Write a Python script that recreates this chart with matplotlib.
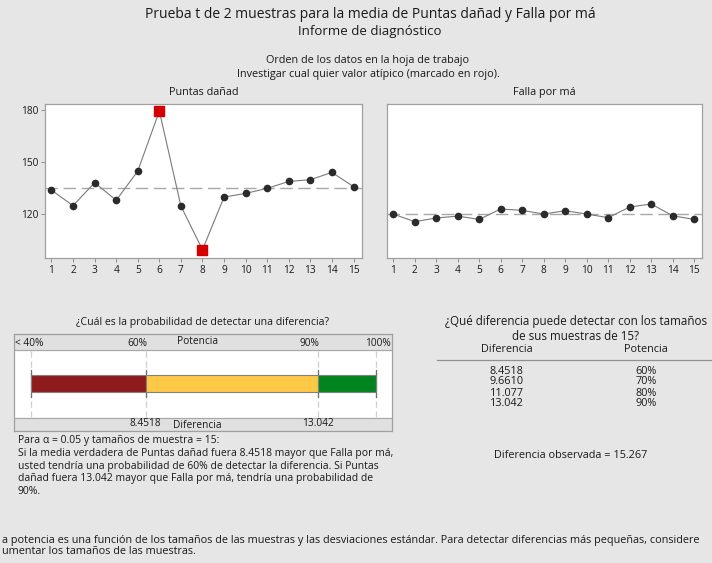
import numpy as np
import matplotlib.pyplot as plt

plt.rcParams['font.family'] = ['Open Sans', 'DejaVu Sans']

# Observaciones en el orden de la hoja de trabajo
orden = np.arange(1, 16)
puntas_danad = [133.8, 124.8, 138.1, 127.9, 144.8, 179.4, 124.6, 99.4,
                129.8, 131.9, 134.8, 138.8, 139.8, 144.0, 135.8]
falla_por_ma = [120.0, 115.6, 117.7, 118.8, 116.9, 122.9, 122.1, 120.0,
                121.9, 120.0, 117.9, 124.0, 125.8, 119.0, 116.9]
atipicos_puntas = [6, 8]
atipicos_falla = []

# Curva de potencia
potencias = [60, 70, 80, 90]
diferencias = [8.4518, 9.6610, 11.077, 13.042]
dif_etiquetas = ["8.4518", "9.6610", "11.077", "13.042"]
dif_observada = 15.267
alfa = 0.05
n_muestra = 15

W, H = 712, 563
BG = '#e6e6e6'
fig = plt.figure(figsize=(W / 100, H / 100), dpi=100, facecolor=BG)


def caja(x0, y0, x1, y1):
    # pixeles (origen arriba a la izquierda) -> fracciones de figura
    return [x0 / W, 1 - y1 / H, (x1 - x0) / W, (y1 - y0) / H]


def texto(x, y, s, **kw):
    kw.setdefault('ha', 'center')
    kw.setdefault('va', 'center')
    kw.setdefault('color', '#1a1a1a')
    fig.text(x / W, 1 - y / H, s, **kw)


texto(370, 15, "Prueba t de 2 muestras para la media de Puntas dañad y Falla por má", fontsize=10)
texto(370, 31, "Informe de diagnóstico", fontsize=9.5)
texto(368, 60, "Orden de los datos en la hoja de trabajo", fontsize=7.8)
texto(368, 74, "Investigar cual quier valor atípico (marcado en rojo).", fontsize=7.8)


def serie(ax, valores, atipicos, titulo, etiquetas_y):
    ax.set_facecolor('white')
    ax.plot(orden, valores, color='#7a7a7a', lw=0.8, zorder=2)
    media = np.mean(valores)
    ax.axhline(media, color='#a8a8a8', lw=1.0, dashes=(9, 4), zorder=1)
    normales = [i for i in orden if i not in atipicos]
    ax.plot(normales, [valores[i - 1] for i in normales], 'o', color='#2b2b2b',
            ms=4.5, zorder=3)
    if atipicos:
        ax.plot(atipicos, [valores[i - 1] for i in atipicos], 's', color='#d40000',
                ms=7, zorder=4)
    ax.set_xlim(0.7, 15.38)
    ax.set_ylim(94.8, 183.3)
    ax.set_xticks(orden)
    ax.tick_params(axis='x', length=3, width=0.6, color='#808080', labelsize=7.3,
                   pad=2, labelcolor='#1a1a1a')
    if etiquetas_y:
        ax.set_yticks([120, 150, 180])
        ax.tick_params(axis='y', length=3, width=0.6, color='#808080', labelsize=7.3,
                       pad=2, labelcolor='#1a1a1a')
    else:
        ax.set_yticks([])
    for s in ax.spines.values():
        s.set_color('#a0a0a0')
        s.set_linewidth(0.9)
    ax.set_title(titulo, fontsize=7.8, color='#1a1a1a', pad=7)


ax1 = fig.add_axes(caja(45, 104.3, 361.7, 257.7))
serie(ax1, puntas_danad, atipicos_puntas, "Puntas dañad", True)
ax2 = fig.add_axes(caja(386.7, 104.3, 702.3, 257.7))
serie(ax2, falla_por_ma, atipicos_falla, "Falla por má", False)

# Barra de potencia
texto(203, 322, "¿Cuál es la probabilidad de detectar una diferencia?", fontsize=7.6)
axp = fig.add_axes(caja(14, 334, 391.7, 431))
axp.set_xlim(37.1, 102.8)
axp.set_ylim(431, 334)
axp.set_facecolor('white')
axp.axhspan(334, 350, color='#e0e0e0', zorder=0)
axp.axhspan(417.7, 431, color='#e0e0e0', zorder=0)
axp.axhline(350, color='#a8a8a8', lw=0.8)
axp.axhline(417.7, color='#a8a8a8', lw=0.8)
limites = [40, potencias[0], potencias[-1], 100]
for xv in limites:
    axp.plot([xv, xv], [351, 417], color='#cfcfcf', lw=0.9, dashes=(5, 3))
    axp.plot([xv, xv], [370, 397], color='#707070', lw=0.9)
colores = ['#8e1b1e', '#fcc846', '#00841f']
for a, b, c in zip(limites[:-1], limites[1:], colores):
    axp.barh(383.6, b - a, left=a, height=17, color=c, edgecolor='#808080',
             linewidth=0.8, zorder=3)
axp.set_xticks([])
axp.set_yticks([])
for s in axp.spines.values():
    s.set_color('#a0a0a0')
    s.set_linewidth(0.9)
kw = dict(fontsize=7.3, color='#1a1a1a', va='center')
axp.text(37.3, 343, "< 40%", ha='left', **kw)
axp.text(potencias[0] + 0.3, 343, f"{potencias[0]}%", ha='right', **kw)
axp.text(potencias[-1] + 0.3, 343, f"{potencias[-1]}%", ha='right', **kw)
axp.text(102.6, 343, "100%", ha='right', **kw)
axp.text(69, 341, "Potencia", ha='center', **kw)
axp.text(potencias[0], 423.5, dif_etiquetas[0], ha='center', **kw)
axp.text(potencias[-1], 423.5, dif_etiquetas[-1], ha='center', **kw)
axp.text(69, 426, "Diferencia", ha='center', **kw)

# Texto explicativo
parrafo = (f"Para α = {alfa} y tamaños de muestra = {n_muestra}:\n"
           f"Si la media verdadera de Puntas dañad fuera {dif_etiquetas[0]} mayor que Falla por má,\n"
           f"usted tendría una probabilidad de {potencias[0]}% de detectar la diferencia. Si Puntas\n"
           f"dañad fuera {dif_etiquetas[-1]} mayor que Falla por má, tendría una probabilidad de\n"
           f"{potencias[-1]}%.")
texto(18, 435, parrafo, ha='left', va='top', fontsize=7.45, linespacing=1.22)

# Tabla de diferencias detectables
texto(576, 321, "¿Qué diferencia puede detectar con los tamaños", fontsize=8.4)
texto(576, 337, "de sus muestras de 15?", fontsize=8.4)
texto(507, 349, "Diferencia", fontsize=7.8)
texto(646, 349, "Potencia", fontsize=7.8)
fig.add_artist(plt.Line2D([436.7 / W, 1], [1 - 360 / H, 1 - 360 / H],
                          color='#909090', lw=0.9))
for k, (d, p) in enumerate(zip(dif_etiquetas, potencias)):
    y = 371 + k * 11
    texto(490, y, d, ha='left', fontsize=7.8)
    texto(646, y, f"{p}%", fontsize=7.8)
texto(571, 456, f"Diferencia observada = {dif_observada}", fontsize=7.8)

texto(2, 540, "a potencia es una función de los tamaños de las muestras y las desviaciones "
              "estándar. Para detectar diferencias más pequeñas, considere",
      ha='left', fontsize=7.8)
texto(2, 552, "umentar los tamaños de las muestras.", ha='left', fontsize=7.8)

fig.savefig('out.png', dpi=100, facecolor=BG)
